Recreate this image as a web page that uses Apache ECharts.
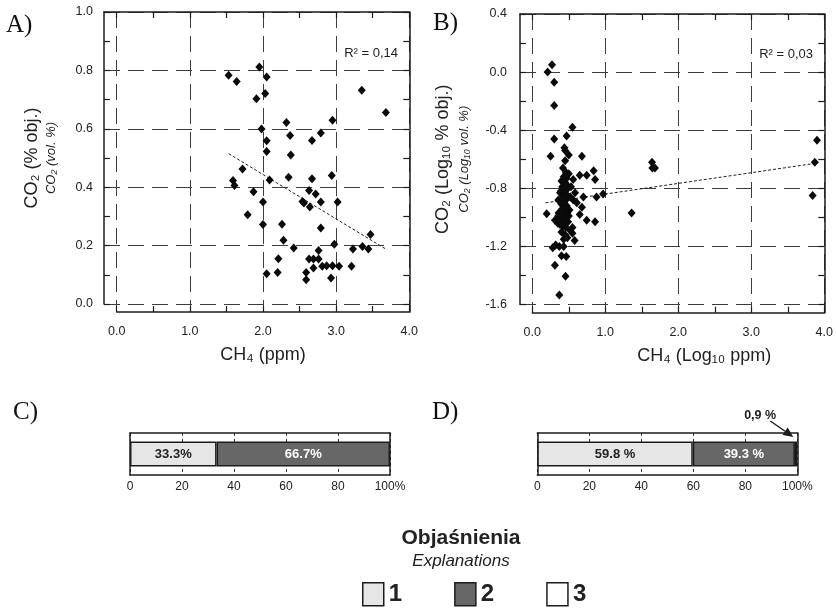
<!DOCTYPE html>
<html>
<head>
<meta charset="utf-8">
<script src="https://cdn.jsdelivr.net/npm/echarts@6/dist/echarts.min.js"></script>
<style>
  html, body { margin: 0; padding: 0; background: #ffffff; }
  #chart { width: 836px; height: 610px; }
</style>
</head>
<body>
<div id="chart"></div>
<script>
// ---- Panel A: CO2 (% vol.) against CH4 (ppm) ----
const co2VsCh4 = [
  [1.53, 0.783], [1.64, 0.762], [1.95, 0.812], [2.05, 0.777], [1.91, 0.703], [2.03, 0.721],
  [3.35, 0.732], [3.68, 0.656], [1.98, 0.599], [2.32, 0.622], [2.37, 0.577], [2.95, 0.629],
  [2.05, 0.559], [2.67, 0.560], [2.79, 0.586], [2.05, 0.522], [2.38, 0.510], [1.72, 0.462],
  [2.35, 0.434], [2.94, 0.440], [2.67, 0.429], [1.59, 0.423], [1.61, 0.406], [2.09, 0.425],
  [1.87, 0.384], [2.63, 0.389], [2.72, 0.377], [2.00, 0.349], [2.54, 0.351], [2.56, 0.346],
  [2.79, 0.349], [3.02, 0.349], [2.64, 0.332], [1.79, 0.306], [2.00, 0.272], [2.26, 0.273],
  [2.79, 0.260], [3.47, 0.238], [2.28, 0.218], [2.975, 0.205], [2.42, 0.192], [3.23, 0.188],
  [3.36, 0.197], [3.44, 0.188], [2.76, 0.183], [2.21, 0.155], [2.63, 0.154], [2.69, 0.154],
  [2.76, 0.154], [2.69, 0.123], [2.81, 0.129], [2.87, 0.131], [2.95, 0.131], [3.04, 0.129],
  [3.21, 0.129], [2.05, 0.104], [2.20, 0.108], [2.59, 0.108], [2.59, 0.083], [2.93, 0.089]
];
const trendA = [[1.53, 0.515], [3.68, 0.188]];
const r2A = '0,14';

// ---- Panel B: log10 CO2 against log10 CH4 ----
const logCo2VsLogCh4 = [
  [0.27, 0.05], [0.21, 0.00], [0.30, -0.07], [0.30, -0.23], [0.55, -0.38], [0.30, -0.46],
  [0.47, -0.44], [0.44, -0.52], [0.45, -0.54], [0.50, -0.57], [0.68, -0.58], [0.25, -0.58],
  [0.45, -0.61], [3.90, -0.47], [3.87, -0.62], [1.64, -0.62], [1.645, -0.66], [1.68, -0.66],
  [3.84, -0.85], [1.36, -0.97], [0.84, -0.68], [0.745, -0.71], [0.65, -0.71], [0.56, -0.74],
  [0.86, -0.74], [0.97, -0.84], [0.88, -0.86], [0.70, -0.86], [0.585, -0.83], [0.56, -0.88],
  [0.61, -0.90], [0.68, -0.93], [0.65, -0.98], [0.745, -1.02], [0.86, -1.03], [0.55, -1.07],
  [0.55, -1.11], [0.58, -1.16], [0.28, -1.21], [0.32, -1.19], [0.37, -1.20], [0.43, -1.20],
  [0.40, -1.265], [0.465, -1.27], [0.31, -1.33], [0.455, -1.405], [0.37, -1.535], [0.197, -0.975],
  [0.31, -1.02], [0.356, -0.99], [0.38, -0.83], [0.40, -0.91], [0.356, -0.88],
  [0.42, -0.66], [0.46, -0.69], [0.43, -0.72], [0.47, -0.73], [0.40, -0.75], [0.45, -0.76],
  [0.48, -0.78], [0.41, -0.79], [0.44, -0.80], [0.47, -0.81], [0.39, -0.82], [0.45, -0.84],
  [0.48, -0.85], [0.42, -0.86], [0.46, -0.88], [0.43, -0.90], [0.47, -0.92], [0.41, -0.94],
  [0.45, -0.95], [0.48, -0.97], [0.43, -0.98], [0.46, -1.00], [0.40, -1.01], [0.44, -1.03],
  [0.49, -1.03], [0.38, -1.05], [0.42, -1.06], [0.46, -1.07], [0.52, -1.09], [0.40, -1.10],
  [0.45, -1.12], [0.48, -1.14], [0.43, -1.15], [0.35, -1.04], [0.36, -0.97], [0.51, -0.95],
  [0.52, -0.86], [0.50, -0.70], [0.53, -0.79], [0.50, -0.99]
];
const trendB = [[0.18, -0.90], [3.92, -0.625]];
const r2B = '0,03';

// ---- Panels C and D: shares of classes 1, 2, 3 (%) ----
const classNames = ['1', '2', '3'];
const shareC = [33.3, 66.7];
const shareD = [59.8, 39.3, 0.9];
const shareTicks = { min: 0, max: 100, step: 20 };

// ---- Styling ----
const SANS = '"Liberation Sans", Arial, Helvetica, sans-serif';
const SERIF = '"Liberation Serif", "Times New Roman", serif';
const INK = '#1c1c1c';
const TEXT = '#222222';
const LIGHT = '#e6e6e6';
const DARK = '#676767';
const AXIS_LINE = { color: INK, width: 1.5 };
const TICK_LINE = { color: INK, width: 1.2 };
const GRID_DASH = { color: '#3c3c3c', width: 1, type: [16, 8] };

const fmt1 = v => (Math.abs(v) < 1e-9 ? 0 : v).toFixed(1);

// Axis that draws only its line (used for the frame edges)
function frameAxis(gridIndex, position) {
  return {
    type: 'value', gridIndex, position, min: 0, max: 1,
    axisLine: { show: true, onZero: false, lineStyle: AXIS_LINE },
    axisTick: { show: false }, minorTick: { show: false },
    axisLabel: { show: false }, splitLine: { show: false }
  };
}
// Axis that draws only inward ticks (opposite edges of the scatter frames)
function tickAxis(gridIndex, position, min, max, interval) {
  return {
    type: 'value', gridIndex, position, min, max, interval,
    axisLine: { show: false, onZero: false },
    axisTick: { show: true, inside: true, length: 6, lineStyle: TICK_LINE },
    minorTick: { show: true, splitNumber: 2, length: 6, lineStyle: TICK_LINE },
    axisLabel: { show: false }, splitLine: { show: false }
  };
}
// Invisible axis carrying the data scale
function dataAxis(gridIndex, min, max) {
  return { type: 'value', gridIndex, min, max, show: false };
}
// Labelled main axis with dashed grid lines
function mainAxis(gridIndex, position, min, max, interval, labelMargin, extra) {
  return Object.assign({
    type: 'value', gridIndex, position, min, max, interval,
    axisLine: { show: true, onZero: false, lineStyle: AXIS_LINE },
    axisTick: { show: true, inside: true, length: 6, lineStyle: TICK_LINE },
    minorTick: { show: true, splitNumber: 2, length: 6, lineStyle: TICK_LINE },
    axisLabel: { show: true, margin: labelMargin, formatter: fmt1,
      color: TEXT, fontFamily: SANS, fontSize: 12.5 },
    splitLine: { show: true, lineStyle: GRID_DASH }
  }, extra);
}
function yName(main, sub, gap, lh) {
  return {
    name: '{a|' + main + '}\n{b|' + sub + '}',
    nameLocation: 'middle', nameRotate: 90, nameGap: gap,
    nameTextStyle: {
      rich: {
        a: { fontFamily: SANS, fontSize: 18, color: TEXT, lineHeight: lh[0] },
        b: { fontFamily: SANS, fontSize: 13, fontStyle: 'italic', color: TEXT, lineHeight: lh[1] }
      }
    }
  };
}
function xName(text, gap, padLeft) {
  return {
    name: text, nameLocation: 'middle', nameGap: gap,
    nameTextStyle: { fontFamily: SANS, fontSize: 18, color: TEXT, padding: [0, 0, 0, padLeft] }
  };
}
// Share bars: frame, dashed 20 % guides and labels
function shareXAxis(gridIndex) {
  return {
    type: 'value', gridIndex, position: 'bottom',
    min: shareTicks.min, max: shareTicks.max, interval: shareTicks.step,
    axisLine: { show: true, onZero: false, lineStyle: AXIS_LINE },
    axisTick: { show: false },
    axisLabel: { show: true, margin: 6, color: TEXT, fontFamily: SANS, fontSize: 12,
      formatter: v => (v === shareTicks.max ? v + '%' : String(v)) },
    splitLine: { show: true, lineStyle: { color: '#333', width: 1, type: [3, 3] } }
  };
}
function shareYAxis(gridIndex, position, cat) {
  return {
    type: 'category', gridIndex, position, data: [cat],
    axisLine: { show: true, onZero: false, lineStyle: AXIS_LINE },
    axisTick: { show: false }, axisLabel: { show: false }, splitLine: { show: false }
  };
}

const grids = [
  { left: 104, top: 12, width: 305.3, height: 292 },     // 0 A: left axis, top edge, horizontal guides
  { left: 116.7, top: 12, width: 292.6, height: 300 },   // 1 A: bottom axis, right edge, vertical guides
  { left: 116.7, top: 12, width: 292.6, height: 292 },   // 2 A: data
  { left: 520, top: 14, width: 304.3, height: 290.5 },   // 3 B: left axis, top edge
  { left: 532.3, top: 14, width: 292, height: 298.7 },   // 4 B: bottom axis, right edge
  { left: 532.3, top: 14, width: 292, height: 290.5 },   // 5 B: data
  { left: 130, top: 433, width: 260, height: 42 },       // 6 C
  { left: 537.3, top: 433, width: 260, height: 42 }      // 7 D
].map(g => Object.assign({ containLabel: false, outerBoundsMode: 'none' }, g));

const xAxes = [
  frameAxis(0, 'top'),                                                    // 0
  mainAxis(1, 'bottom', 0, 4, 1, 13, xName('CH₄ (ppm)', 34, 0)),          // 1
  tickAxis(1, 'top', 0, 4, 1),                                            // 2
  dataAxis(2, 0, 4),                                                      // 3
  frameAxis(3, 'top'),                                                    // 4
  mainAxis(4, 'bottom', 0, 4, 1, 13, xName('CH₄ (Log₁₀ ppm)', 34, 52)),   // 5
  tickAxis(4, 'top', 0, 4, 1),                                            // 6
  dataAxis(5, 0, 4),                                                      // 7
  shareXAxis(6),                                                          // 8
  Object.assign(frameAxis(6, 'top'), { min: 0, max: 100 }),               // 9
  shareXAxis(7),                                                          // 10
  Object.assign(frameAxis(7, 'top'), { min: 0, max: 100 })                // 11
];

const yAxes = [
  mainAxis(0, 'left', 0, 1, 0.2, 11, yName('CO₂ (% obj.)', 'CO₂ (vol. %)', 44, [22, 17])),               // 0
  tickAxis(0, 'right', 0, 1, 0.2),                                                                      // 1
  frameAxis(1, 'right'),                                                                                // 2
  dataAxis(2, 0, 1),                                                                                    // 3
  mainAxis(3, 'left', -1.6, 0.4, 0.4, 13, yName('CO₂ (Log₁₀ % obj.)', 'CO₂ (Log₁₀ vol. %)', 47, [24, 18])), // 4
  tickAxis(3, 'right', -1.6, 0.4, 0.4),                                                                 // 5
  frameAxis(4, 'right'),                                                                                // 6
  dataAxis(5, -1.6, 0.4),                                                                               // 7
  shareYAxis(6, 'left', 'C'),                                                                           // 8
  shareYAxis(6, 'right', 'C'),                                                                          // 9
  shareYAxis(7, 'left', 'D'),                                                                           // 10
  shareYAxis(7, 'right', 'D')                                                                           // 11
];

function scatterSeries(axisIndex, data) {
  return {
    type: 'scatter', xAxisIndex: axisIndex, yAxisIndex: axisIndex, data,
    symbol: 'diamond', symbolSize: [8, 9], silent: true,
    itemStyle: { color: '#0a0a0a', opacity: 1 }, z: 4
  };
}
function trendSeries(axisIndex, data) {
  return {
    type: 'line', xAxisIndex: axisIndex, yAxisIndex: axisIndex, data,
    symbol: 'none', silent: true, z: 3,
    lineStyle: { color: '#222222', width: 1, type: [3, 2] }
  };
}

const classFill = [LIGHT, DARK, '#ffffff'];
const classLabelColor = [TEXT, '#ffffff', TEXT];

function shareSeries(axisIndex, stack, values, suffix) {
  return values.map((v, i) => {
    const s = {
      name: classNames[i], type: 'bar', stack, barWidth: 25,
      xAxisIndex: axisIndex, yAxisIndex: axisIndex, data: [v], silent: true,
      itemStyle: { color: classFill[i], borderColor: INK, borderWidth: 1.5 },
      label: {
        show: true, position: 'inside', color: classLabelColor[i],
        fontFamily: SANS, fontSize: 13, fontWeight: 'bold',
        formatter: p => p.value.toFixed(1) + suffix
      }
    };
    if (i === 2) {
      // very small share: label placed above, pointed at by an arrow
      s.label = {
        show: true, position: 'top', offset: [-36, -14], color: TEXT,
        fontFamily: SANS, fontSize: 12.5, fontWeight: 'bold',
        formatter: p => p.value.toFixed(1).replace('.', ',') + suffix
      };
    }
    return s;
  });
}

const series = [
  trendSeries(3, trendA),
  scatterSeries(3, co2VsCh4),
  trendSeries(7, trendB),
  scatterSeries(7, logCo2VsLogCh4),
  ...shareSeries(8, 'C', shareC, '%'),
  ...shareSeries(10, 'D', shareD, ' %')
];

const panelLetter = (text, left, top) => ({
  text, left, top, padding: 0,
  textStyle: { fontFamily: SERIF, fontSize: 25, fontWeight: 'normal', color: '#111' }
});
const r2Title = (value, right, top) => ({
  text: 'R² = ' + value, right, top, padding: 0,
  textStyle: { fontFamily: SANS, fontSize: 13, fontWeight: 'normal', color: TEXT }
});

const option = {
  animation: false,
  backgroundColor: '#ffffff',
  title: [
    panelLetter('A)', 6, 13),
    panelLetter('B)', 433, 11),
    panelLetter('C)', 13, 400),
    panelLetter('D)', 432, 400),
    r2Title(r2A, 438, 47),
    r2Title(r2B, 23, 48),
    {
      text: 'Objaśnienia', subtext: 'Explanations',
      left: 461, textAlign: 'center', top: 528, padding: 0, itemGap: 4,
      textStyle: { fontFamily: SANS, fontSize: 21, fontWeight: 'bold', color: TEXT },
      subtextStyle: { fontFamily: SANS, fontSize: 17, fontStyle: 'italic', color: TEXT }
    }
  ],
  legend: {
    data: classNames, left: 362, top: 582, padding: 0,
    icon: 'rect', itemWidth: 21, itemHeight: 23, itemGap: 52,
    selectedMode: false,
    itemStyle: { borderColor: INK, borderWidth: 1.5 },
    textStyle: { fontFamily: SANS, fontSize: 24, fontWeight: 'bold', color: TEXT }
  },
  grid: grids,
  xAxis: xAxes,
  yAxis: yAxes,
  series
};

const chart = echarts.init(document.getElementById('chart'), null, { renderer: 'canvas' });
chart.setOption(option);

// Arrow pointing from the "0,9 %" label to the end of bar D
const dSeriesIndex = series.length - 1;
const endPt = chart.convertToPixel({ seriesIndex: dSeriesIndex }, [shareTicks.max, 0]);
if (endPt) {
  const tip = [endPt[0] - 4, endPt[1] - 17];
  const start = [tip[0] - 23, tip[1] - 16];
  const dx = tip[0] - start[0], dy = tip[1] - start[1];
  const len = Math.hypot(dx, dy), ux = dx / len, uy = dy / len;
  const headL = 10, headW = 4.5;
  const base = [tip[0] - ux * headL, tip[1] - uy * headL];
  chart.setOption({
    graphic: [
      { type: 'line', silent: true,
        shape: { x1: start[0], y1: start[1], x2: base[0], y2: base[1] },
        style: { stroke: INK, lineWidth: 1.4 } },
      { type: 'polygon', silent: true,
        shape: { points: [tip, [base[0] - uy * headW, base[1] + ux * headW], [base[0] + uy * headW, base[1] - ux * headW]] },
        style: { fill: INK } }
    ]
  });
}
</script>
</body>
</html>
